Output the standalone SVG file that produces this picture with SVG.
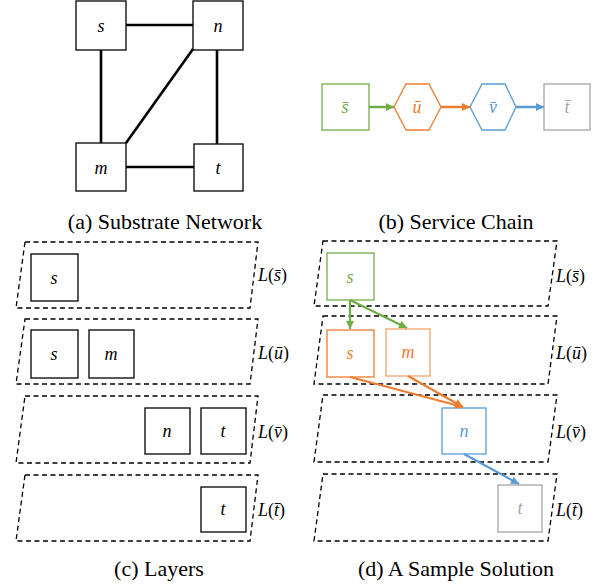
<svg xmlns="http://www.w3.org/2000/svg" width="602" height="586" viewBox="0 0 602 586">
<style>
.nd{fill:#fff;stroke:#000;stroke-width:1.3}
.lb{font-family:'Liberation Serif','Times New Roman','DejaVu Serif',serif;font-style:italic;font-size:18px;text-anchor:middle}
.ll{font-family:'Liberation Serif','Times New Roman','DejaVu Serif',serif;font-size:18px}
.cap{font-family:'Liberation Serif','Times New Roman','DejaVu Serif',serif;font-size:22px;text-anchor:middle}
.e{stroke:#000;stroke-width:2.6;fill:none}
.lay{fill:none;stroke:#000;stroke-width:1.3;stroke-dasharray:5 3.5}
.it{font-style:italic}
</style>
<defs>
<marker id="ag" viewBox="0 0 10 10" refX="10" refY="5" markerWidth="9" markerHeight="8" markerUnits="userSpaceOnUse" orient="auto"><path d="M0,0L10,5L0,10z" fill="#70AD47"/></marker>
<marker id="ao" viewBox="0 0 10 10" refX="10" refY="5" markerWidth="9" markerHeight="8" markerUnits="userSpaceOnUse" orient="auto"><path d="M0,0L10,5L0,10z" fill="#ED7D31"/></marker>
<marker id="ab" viewBox="0 0 10 10" refX="10" refY="5" markerWidth="9" markerHeight="8" markerUnits="userSpaceOnUse" orient="auto"><path d="M0,0L10,5L0,10z" fill="#5B9BD5"/></marker>
</defs>

<!-- (a) substrate network -->
<g id="edges-a">
<line class="e" x1="126" y1="25" x2="193" y2="25"/>
<line class="e" x1="101" y1="50" x2="101" y2="143"/>
<line class="e" x1="193" y1="49" x2="126" y2="143"/>
<line class="e" x1="217" y1="50" x2="217" y2="144"/>
<line class="e" x1="126" y1="167" x2="194" y2="167"/>
</g>
<g id="a-s"><rect class="nd" x="76" y="1" width="50" height="49"/><text class="lb" x="101" y="32">s</text></g>
<g id="a-n"><rect class="nd" x="193" y="1" width="50" height="49"/><text class="lb" x="218" y="32">n</text></g>
<g id="a-m"><rect class="nd" x="76" y="143" width="50" height="48"/><text class="lb" x="101" y="174">m</text></g>
<g id="a-t"><rect class="nd" x="194" y="144" width="49" height="47"/><text class="lb" x="218" y="174">t</text></g>
<text class="cap" x="165" y="229">(a) Substrate Network</text>

<!-- (b) service chain -->
<g id="edges-b">
<line x1="369" y1="107" x2="394" y2="107" stroke="#70AD47" stroke-width="2.5" marker-end="url(#ag)"/>
<line x1="441" y1="107" x2="470" y2="107" stroke="#ED7D31" stroke-width="2.5" marker-end="url(#ao)"/>
<line x1="516" y1="107" x2="544" y2="107" stroke="#5B9BD5" stroke-width="2.5" marker-end="url(#ab)"/>
</g>
<g id="b-s"><rect x="322" y="84" width="47" height="46" fill="#fff" stroke="#70AD47" stroke-width="1.3"/><text class="lb" x="345" y="113" fill="#70AD47">s̄</text></g>
<g id="b-u"><polygon points="394,107 406,84 429,84 441,107 429,130 406,130" fill="#fff" stroke="#ED7D31" stroke-width="1.3"/><text class="lb" x="417" y="113" fill="#ED7D31">ū</text></g>
<g id="b-v"><polygon points="470,107 482,84 505,84 516,107 505,130 482,130" fill="#fff" stroke="#5B9BD5" stroke-width="1.3"/><text class="lb" x="493" y="113" fill="#5B9BD5">v̄</text></g>
<g id="b-t"><rect x="544" y="84" width="46" height="46" fill="#fff" stroke="#A5A5A5" stroke-width="1.3"/><text class="lb" x="567" y="113" fill="#A5A5A5">t̄</text></g>
<text class="cap" x="456" y="229">(b) Service Chain</text>

<!-- (c) layers -->
<g id="c-layers">
<polygon class="lay" points="25,242 258,242 250,308 16,308"/>
<polygon class="lay" points="25,319 258,319 250,384 16,384"/>
<polygon class="lay" points="25,396 258,396 250,463 16,463"/>
<polygon class="lay" points="25,475 258,475 250,541 16,541"/>
<text class="ll" x="258" y="281"><tspan class="it">L</tspan>(<tspan class="it">s̄</tspan>)</text>
<text class="ll" x="258" y="359"><tspan class="it">L</tspan>(<tspan class="it">ū</tspan>)</text>
<text class="ll" x="258" y="438"><tspan class="it">L</tspan>(<tspan class="it">v̄</tspan>)</text>
<text class="ll" x="258" y="516"><tspan class="it">L</tspan>(<tspan class="it">t̄</tspan>)</text>
</g>
<g id="c-s1"><rect class="nd" x="31" y="254" width="47" height="47"/><text class="lb" x="54" y="284">s</text></g>
<g id="c-s2"><rect class="nd" x="31" y="330" width="47" height="48"/><text class="lb" x="54" y="360">s</text></g>
<g id="c-m2"><rect class="nd" x="89" y="330" width="45" height="48"/><text class="lb" x="111" y="360">m</text></g>
<g id="c-n3"><rect class="nd" x="145" y="408" width="45" height="46"/><text class="lb" x="167" y="437">n</text></g>
<g id="c-t3"><rect class="nd" x="201" y="408" width="45" height="46"/><text class="lb" x="223" y="437">t</text></g>
<g id="c-t4"><rect class="nd" x="201" y="487" width="45" height="45"/><text class="lb" x="223" y="515">t</text></g>
<text class="cap" x="159" y="576">(c) Layers</text>

<!-- (d) sample solution -->
<g id="d-layers">
<polygon class="lay" points="323,241 557,241 548,306 314,306"/>
<polygon class="lay" points="323,316 557,316 548,384 314,384"/>
<polygon class="lay" points="323,395 557,395 548,462 314,462"/>
<polygon class="lay" points="323,474 557,474 548,541 314,541"/>
<text class="ll" x="556" y="282"><tspan class="it">L</tspan>(<tspan class="it">s̄</tspan>)</text>
<text class="ll" x="556" y="359"><tspan class="it">L</tspan>(<tspan class="it">ū</tspan>)</text>
<text class="ll" x="556" y="438"><tspan class="it">L</tspan>(<tspan class="it">v̄</tspan>)</text>
<text class="ll" x="556" y="516"><tspan class="it">L</tspan>(<tspan class="it">t̄</tspan>)</text>
</g>
<g id="d-s1"><rect x="327" y="253" width="47" height="47" fill="#fff" stroke="#70AD47" stroke-width="1.3"/><text class="lb" x="350" y="283" fill="#70AD47">s</text></g>
<g id="d-s2"><rect x="327" y="330" width="47" height="47" fill="#fff" stroke="#ED7D31" stroke-width="1.3"/><text class="lb" x="350" y="359" fill="#ED7D31">s</text></g>
<g id="d-m2"><rect x="386" y="329" width="44" height="47" fill="#fff" stroke="#F2A36B" stroke-width="1.3"/><text class="lb" x="408" y="358" fill="#ED7D31">m</text></g>
<g id="d-n3"><rect x="442" y="408" width="44" height="46" fill="#fff" stroke="#5B9BD5" stroke-width="1.3"/><text class="lb" x="464" y="437" fill="#5B9BD5">n</text></g>
<g id="d-t4"><rect x="498" y="485" width="44" height="47" fill="#fff" stroke="#A5A5A5" stroke-width="1.3"/><text class="lb" x="520" y="514" fill="#A5A5A5">t</text></g>
<g id="edges-d">
<line x1="350" y1="300" x2="350" y2="329" stroke="#70AD47" stroke-width="2.2" marker-end="url(#ag)"/>
<line x1="350" y1="300" x2="407" y2="328" stroke="#70AD47" stroke-width="2.2" marker-end="url(#ag)"/>
<line x1="350" y1="377" x2="463" y2="407" stroke="#ED7D31" stroke-width="2.2" marker-end="url(#ao)"/>
<line x1="408" y1="376" x2="463" y2="407" stroke="#ED7D31" stroke-width="2.2" marker-end="url(#ao)"/>
<line x1="464" y1="454" x2="519" y2="484" stroke="#5B9BD5" stroke-width="2.2" marker-end="url(#ab)"/>
</g>
<text class="cap" x="456" y="576">(d) A Sample Solution</text>
</svg>
